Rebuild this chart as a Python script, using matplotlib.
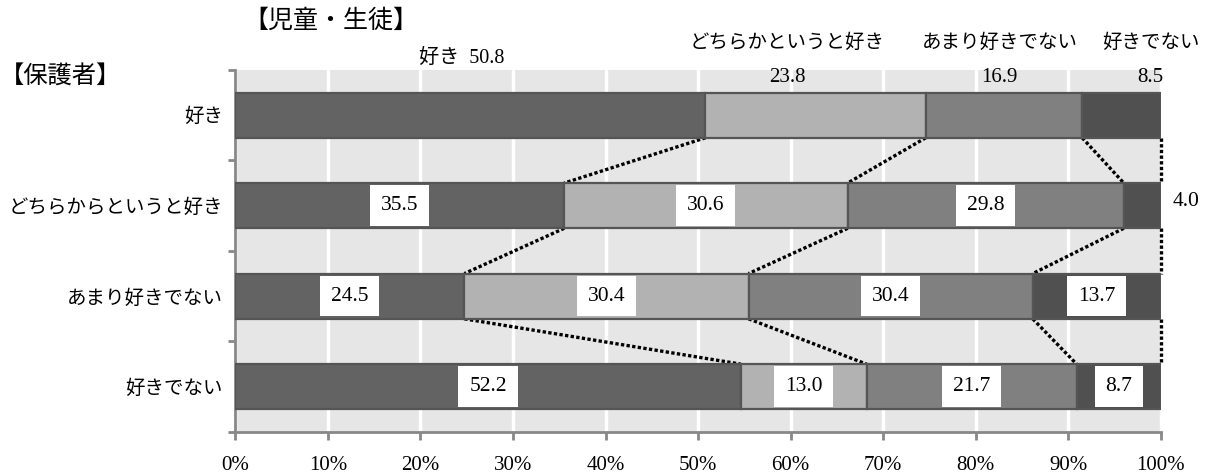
import matplotlib
matplotlib.use("Agg")
import matplotlib.pyplot as plt
import numpy as np
from matplotlib.transforms import blended_transform_factory

plt.rcParams['font.family'] = ['Liberation Serif', 'Noto Sans CJK JP', 'DejaVu Sans']

# ---- data ----
categories = ["好き", "どちらからというと好き", "あまり好きでない", "好きでない"]
series_names = ["好き", "どちらかというと好き", "あまり好きでない", "好きでない"]
values = [
    [50.8, 23.8, 16.9, 8.5],
    [35.5, 30.6, 29.8, 4.0],
    [24.5, 30.4, 30.4, 13.7],
    [52.2, 13.0, 21.7, 8.7],
]
colors = ["#636363", "#b2b2b2", "#808080", "#505050"]

# header label x positions (percent of bar axis) for the first row
top_label_x = [24.5, 59.6, 82.6, 98.9]

fig = plt.figure(figsize=(12.13, 4.74), dpi=100)
ax = fig.add_axes([0.194, 0.0886, 0.763, 0.764])
ax.set_facecolor("#e6e6e6")

vals = np.array(values)
pct = vals / vals.sum(axis=1, keepdims=True) * 100
cum = np.cumsum(pct, axis=1)
left = cum - pct

bar_h = 0.5
y = np.arange(len(categories))
for j in range(4):
    ax.barh(y, pct[:, j], left=left[:, j], height=bar_h, color=colors[j],
            edgecolor="#555555", linewidth=1.6, zorder=3)

# connecting (series) lines
for i in range(len(categories) - 1):
    for j in range(4):
        ax.plot([cum[i, j], cum[i + 1, j]], [i + bar_h / 2, i + 1 - bar_h / 2],
                color="black", linestyle=(0, (1, 0.7)), linewidth=2.4, zorder=2,
                clip_on=False)

# data labels rows 2-4
for i in range(1, len(categories)):
    for j in range(4):
        txt = f"{vals[i, j]:.1f}"
        if pct[i, j] < 6:
            ax.text(102.7, i - 0.05, txt, ha="center", va="center",
                    fontsize=15.5, zorder=5, clip_on=False)
        else:
            ax.text(left[i, j] + pct[i, j] / 2, i, txt, ha="center", va="center",
                    fontsize=15.5, zorder=5,
                    bbox=dict(boxstyle="square,pad=0.5", fc="white", ec="none"))

# top-row labels (series names with values) above the plot
tr = blended_transform_factory(ax.transData, fig.transFigure)
for j in range(4):
    if j == 0:
        ax.text(top_label_x[j], 1 - 58 / 474, f"{series_names[j]}  {vals[0, j]:.1f}",
                transform=tr, ha="center", va="center", fontsize=14.5)
    else:
        ax.text(top_label_x[j], 1 - 43 / 474, series_names[j],
                transform=tr, ha="center", va="center", fontsize=14)
        ax.text(top_label_x[j], 1 - 77 / 474, f"{vals[0, j]:.1f}",
                transform=tr, ha="center", va="center", fontsize=15)

fig.text(331 / 1213, 1 - 21 / 474, "【児童・生徒】", ha="center", va="center", fontsize=18)
fig.text(60 / 1213, 1 - 76 / 474, "【保護者】", ha="center", va="center", fontsize=17.5)

# axes styling
ax.set_xlim(0, 100)
ax.set_ylim(len(categories) - 0.5, -0.5)
ax.set_xticks(np.arange(0, 101, 10))
ax.set_xticklabels([f"{t}%" for t in range(0, 101, 10)], fontsize=15)
ax.set_yticks(np.arange(-0.5, len(categories), 1.0))
ax.set_yticklabels([])
ax.set_yticks(y, minor=True)
ax.set_yticklabels(categories, minor=True, fontsize=14)
ax.tick_params(axis="y", which="minor", length=0, pad=9)
ax.tick_params(axis="y", which="major", length=5, width=2, color="#888888")
ax.tick_params(axis="x", length=6, width=2, color="#888888", pad=11)
ax.grid(axis="x", color="white", linewidth=2.5, zorder=0)
ax.set_axisbelow(True)
for s in ["top", "right"]:
    ax.spines[s].set_visible(False)
for s in ["left", "bottom"]:
    ax.spines[s].set_color("#888888")
    ax.spines[s].set_linewidth(2)

fig.savefig("out.png", dpi=100)
